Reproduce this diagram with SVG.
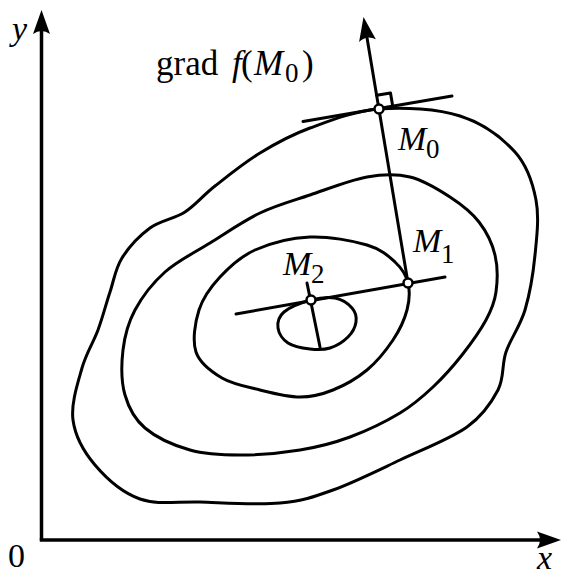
<svg xmlns="http://www.w3.org/2000/svg" width="562" height="576" viewBox="0 0 562 576">
<style>
.ln{fill:none;stroke:#000;stroke-width:3;stroke-linecap:round;stroke-linejoin:round}
.ax{fill:none;stroke:#000;stroke-width:3.5}
.pt{fill:#fff;stroke:#000;stroke-width:2.5}
text{font-family:"Liberation Serif","Times New Roman",serif;fill:#000}
.it{font-style:italic}
.lb{font-size:34px}
.gl{font-size:35px}
.sb{font-size:27px;font-style:normal}
</style>
<defs>
<marker id="arr" markerUnits="userSpaceOnUse" viewBox="-16 -10 30 20" refX="0" refY="0" markerWidth="30" markerHeight="20" orient="auto">
<path d="M12,0 L-12,-8.5 Q-6,0 -12,8.5 Z" fill="#000"/>
</marker>
</defs>
<rect width="562" height="576" fill="#fff"/>
<g id="axes">
<line class="ax" x1="41.5" y1="540" x2="41.5" y2="22" marker-end="url(#arr)"/>
<line class="ax" x1="39.75" y1="540" x2="549" y2="540" marker-end="url(#arr)"/>
<text class="lb it" x="12" y="40">y</text>
<text class="lb it" x="537" y="569">x</text>
<text class="lb" x="8" y="567">0</text>
</g>
<g id="contours">
<path id="level1" class="ln" d="M379,109 C404,107 437.3,108.8 460,116 C482.7,123.2 502.3,138 515,152 C527.7,166 532.7,182.8 536,200 C539.3,217.2 536.8,236.7 535,255 C533.2,273.3 529.8,293.8 525,310 C520.2,326.2 510.5,338.7 506,352 C501.5,365.3 504.5,377.5 498,390 C491.5,402.5 483.3,415.3 467,427 C450.7,438.7 422.3,449.5 400,460 C377.7,470.5 353,482.8 333,490 C313,497.2 302.2,501 280,503 C257.8,505 223.3,502.7 200,502 C176.7,501.3 157.5,505.2 140,499 C122.5,492.8 106.2,478.2 95,465 C83.8,451.8 75.2,436.2 73,420 C70.8,403.8 77.8,383 82,368 C86.2,353 93.3,342.7 98,330 C102.7,317.3 106,304 110,292 C114,280 115.3,268.7 122,258 C128.7,247.3 139.5,235.7 150,228 C160.5,220.3 174.2,219 185,212 C195.8,205 202.5,195.8 215,186 C227.5,176.2 244.2,162.7 260,153 C275.8,143.3 290.2,135.3 310,128 C329.8,120.7 354,111 379,109 Z"/>
<path id="level2" class="ln" d="M367,177 C383.7,174 396.2,173.7 410,177 C423.8,180.3 438.5,189.5 450,197 C461.5,204.5 471.5,212.3 479,222 C486.5,231.7 492.2,243.3 495,255 C497.8,266.7 497.5,281.2 496,292 C494.5,302.8 491.7,309.5 486,320 C480.3,330.5 470.8,343.8 462,355 C453.2,366.2 443.3,377.3 433,387 C422.7,396.7 413.8,404.7 400,413 C386.2,421.3 366.7,430.8 350,437 C333.3,443.2 318.3,447 300,450 C281.7,453 258.3,455 240,455 C221.7,455 205.8,454.5 190,450 C174.2,445.5 155.8,437.2 145,428 C134.2,418.8 128.7,408 125,395 C121.3,382 121.3,364.2 123,350 C124.7,335.8 128,323 135,310 C142,297 152.5,283.2 165,272 C177.5,260.8 194.2,252.8 210,243 C225.8,233.2 243.3,221 260,213 C276.7,205 292.2,201 310,195 C327.8,189 350.3,180 367,177 Z"/>
<path id="level3" class="ln" d="M310,237 C328.7,236.2 352.8,240.8 367,245 C381.2,249.2 388.2,255.7 395,262 C401.8,268.3 406,275 408,283 C410,291 409.5,300.5 407,310 C404.5,319.5 399.7,330 393,340 C386.3,350 377,361.7 367,370 C357,378.3 344.2,385.5 333,390 C321.8,394.5 312.2,397 300,397 C287.8,397 273,393.2 260,390 C247,386.8 232.7,384.3 222,378 C211.3,371.7 199.8,363.3 196,352 C192.2,340.7 195,322.5 199,310 C203,297.5 210.7,287 220,277 C229.3,267 240,256.7 255,250 C270,243.3 291.3,237.8 310,237 Z"/>
<path id="level4" class="ln" d="M311,300 C319.5,297.7 328.2,296.7 335,298 C341.8,299.3 348.5,304 352,308 C355.5,312 356.7,317.2 356,322 C355.3,326.8 352.3,332.7 348,337 C343.7,341.3 336.3,346 330,348 C323.7,350 317,349.8 310,349 C303,348.2 293.3,346.5 288,343 C282.7,339.5 278.7,333.2 278,328 C277.3,322.8 278.5,316.7 284,312 C289.5,307.3 302.5,302.3 311,300 Z"/>
</g>
<g id="connectors">
<line class="ln" x1="408" y1="283" x2="365.5" y2="28.8" marker-end="url(#arr)"/>
<line class="ln" x1="303" y1="121.5" x2="452" y2="96"/>
<polyline class="ln" stroke-width="2.2" points="376.7,95.2 390.5,92.9 392.8,106.7"/>
<line class="ln" x1="236" y1="314" x2="445" y2="277"/>
<line class="ln" x1="307" y1="283" x2="320" y2="347"/>
</g>
<g id="gradlabel">
<text class="gl" x="156" y="75">grad<tspan class="it" x="232">f</tspan><tspan x="241">(</tspan><tspan class="it" x="254">M</tspan><tspan class="sb" x="285" y="82">0</tspan><tspan x="302" y="75">)</tspan></text>
</g>
<g id="M0">
<circle class="pt" cx="379" cy="109" r="4.5"/>
<text class="lb it" x="398" y="150">M<tspan class="sb" x="426" y="158">0</tspan></text>
</g>
<g id="M1">
<circle class="pt" cx="408" cy="283" r="4.5"/>
<text class="lb it" x="413" y="252">M<tspan class="sb" x="441" y="263">1</tspan></text>
</g>
<g id="M2">
<circle class="pt" cx="311" cy="300" r="4.5"/>
<text class="lb it" x="283" y="275">M<tspan class="sb" x="311" y="283">2</tspan></text>
</g>
</svg>
